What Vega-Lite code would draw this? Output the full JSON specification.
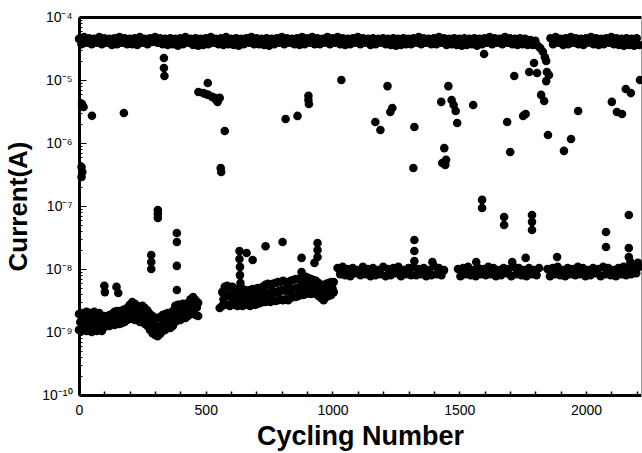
{
"$schema": "https://vega.github.io/schema/vega-lite/v6.json",
"width": 562, "height": 378,
"autosize": {"type": "none"},
"padding": {"left": 79, "top": 17, "right": 1, "bottom": 58},
"background": "white",
"config": {"view": {"stroke": null}, "font": "Liberation Sans"},
"data": {"values": [
{"n":0,"I":4.5e-5},{"n":10,"I":3.7e-5},{"n":20,"I":4.8e-5},{"n":30,"I":3.9e-5},{"n":40,"I":4.6e-5},{"n":50,"I":3.7e-5},{"n":60,"I":4.5e-5},{"n":70,"I":3.9e-5},{"n":80,"I":4.8e-5},{"n":90,"I":3.7e-5},
{"n":100,"I":4.6e-5},{"n":110,"I":3.9e-5},{"n":120,"I":4.5e-5},{"n":130,"I":3.6e-5},{"n":140,"I":4.6e-5},{"n":150,"I":3.7e-5},{"n":160,"I":4.8e-5},{"n":170,"I":3.9e-5},{"n":180,"I":4.6e-5},{"n":190,"I":3.7e-5},
{"n":200,"I":4.5e-5},{"n":210,"I":3.7e-5},{"n":220,"I":4.6e-5},{"n":230,"I":3.6e-5},{"n":240,"I":4.8e-5},{"n":250,"I":3.9e-5},{"n":260,"I":4.5e-5},{"n":270,"I":3.7e-5},{"n":280,"I":4.6e-5},{"n":290,"I":4.0e-5},
{"n":300,"I":4.8e-5},{"n":310,"I":3.9e-5},{"n":320,"I":4.6e-5},{"n":330,"I":3.7e-5},{"n":340,"I":4.5e-5},{"n":350,"I":3.6e-5},{"n":360,"I":4.6e-5},{"n":370,"I":3.7e-5},{"n":380,"I":4.5e-5},{"n":390,"I":3.5e-5},
{"n":400,"I":4.6e-5},{"n":410,"I":3.7e-5},{"n":420,"I":4.8e-5},{"n":430,"I":3.9e-5},{"n":440,"I":4.5e-5},{"n":450,"I":3.6e-5},{"n":460,"I":4.6e-5},{"n":470,"I":3.5e-5},{"n":480,"I":4.5e-5},{"n":490,"I":3.6e-5},
{"n":500,"I":4.6e-5},{"n":510,"I":3.7e-5},{"n":520,"I":4.8e-5},{"n":530,"I":3.9e-5},{"n":540,"I":4.5e-5},{"n":550,"I":3.7e-5},{"n":560,"I":4.6e-5},{"n":570,"I":3.6e-5},{"n":580,"I":4.8e-5},{"n":590,"I":3.7e-5},
{"n":600,"I":4.5e-5},{"n":610,"I":3.6e-5},{"n":620,"I":4.6e-5},{"n":630,"I":3.5e-5},{"n":640,"I":4.5e-5},{"n":650,"I":3.7e-5},{"n":660,"I":4.6e-5},{"n":670,"I":3.9e-5},{"n":680,"I":4.8e-5},{"n":690,"I":3.7e-5},
{"n":700,"I":4.6e-5},{"n":710,"I":3.7e-5},{"n":720,"I":4.5e-5},{"n":730,"I":3.6e-5},{"n":740,"I":4.6e-5},{"n":750,"I":3.5e-5},{"n":760,"I":4.5e-5},{"n":770,"I":3.7e-5},{"n":780,"I":4.6e-5},{"n":790,"I":3.9e-5},
{"n":800,"I":4.8e-5},{"n":810,"I":3.7e-5},{"n":820,"I":4.6e-5},{"n":830,"I":3.9e-5},{"n":840,"I":4.5e-5},{"n":850,"I":3.7e-5},{"n":860,"I":4.6e-5},{"n":870,"I":3.6e-5},{"n":880,"I":4.8e-5},{"n":890,"I":3.7e-5},
{"n":900,"I":4.6e-5},{"n":910,"I":3.9e-5},{"n":920,"I":4.8e-5},{"n":930,"I":3.7e-5},{"n":940,"I":4.6e-5},{"n":950,"I":3.7e-5},{"n":960,"I":4.5e-5},{"n":970,"I":3.9e-5},{"n":980,"I":4.8e-5},{"n":990,"I":3.7e-5},
{"n":1000,"I":4.6e-5},{"n":1010,"I":3.9e-5},{"n":1020,"I":4.8e-5},{"n":1030,"I":3.7e-5},{"n":1040,"I":4.6e-5},{"n":1050,"I":3.6e-5},{"n":1060,"I":4.5e-5},{"n":1070,"I":3.7e-5},{"n":1080,"I":4.6e-5},{"n":1090,"I":3.9e-5},
{"n":1100,"I":4.8e-5},{"n":1110,"I":3.7e-5},{"n":1120,"I":4.6e-5},{"n":1130,"I":3.9e-5},{"n":1140,"I":4.5e-5},{"n":1150,"I":3.6e-5},{"n":1160,"I":4.6e-5},{"n":1170,"I":3.7e-5},{"n":1180,"I":4.5e-5},{"n":1190,"I":3.9e-5},
{"n":1200,"I":4.6e-5},{"n":1210,"I":3.7e-5},{"n":1220,"I":4.5e-5},{"n":1230,"I":3.6e-5},{"n":1240,"I":4.6e-5},{"n":1250,"I":3.5e-5},{"n":1260,"I":4.5e-5},{"n":1270,"I":3.6e-5},{"n":1280,"I":4.6e-5},{"n":1290,"I":3.7e-5},
{"n":1300,"I":4.5e-5},{"n":1310,"I":3.7e-5},{"n":1320,"I":4.6e-5},{"n":1330,"I":3.9e-5},{"n":1340,"I":4.8e-5},{"n":1350,"I":3.7e-5},{"n":1360,"I":4.6e-5},{"n":1370,"I":3.9e-5},{"n":1380,"I":4.5e-5},{"n":1390,"I":3.7e-5},
{"n":1400,"I":4.6e-5},{"n":1410,"I":3.7e-5},{"n":1420,"I":4.8e-5},{"n":1430,"I":3.9e-5},{"n":1440,"I":4.6e-5},{"n":1450,"I":3.6e-5},{"n":1460,"I":4.5e-5},{"n":1470,"I":3.7e-5},{"n":1480,"I":4.6e-5},{"n":1490,"I":3.6e-5},
{"n":1500,"I":4.5e-5},{"n":1510,"I":3.5e-5},{"n":1520,"I":4.6e-5},{"n":1530,"I":3.6e-5},{"n":1540,"I":4.5e-5},{"n":1550,"I":3.7e-5},{"n":1560,"I":4.6e-5},{"n":1570,"I":3.5e-5},{"n":1580,"I":4.5e-5},{"n":1590,"I":3.7e-5},
{"n":1600,"I":4.6e-5},{"n":1610,"I":3.9e-5},{"n":1620,"I":4.8e-5},{"n":1630,"I":3.7e-5},{"n":1640,"I":4.6e-5},{"n":1650,"I":3.9e-5},{"n":1660,"I":4.5e-5},{"n":1670,"I":3.7e-5},{"n":1680,"I":4.8e-5},{"n":1690,"I":3.9e-5},
{"n":1700,"I":4.6e-5},{"n":1710,"I":3.7e-5},{"n":1720,"I":4.5e-5},{"n":1730,"I":3.6e-5},{"n":1740,"I":4.6e-5},{"n":1750,"I":3.7e-5},{"n":1760,"I":4.5e-5},{"n":1770,"I":3.6e-5},{"n":1780,"I":4.3e-5},{"n":1790,"I":3.6e-5},
{"n":1800,"I":4.2e-5},{"n":1810,"I":3.5e-5},{"n":1820,"I":3.2e-5},{"n":1830,"I":2.8e-5},{"n":1838,"I":2.3e-5},{"n":1843,"I":2.0e-5},
{"n":1860,"I":4.6e-5},{"n":1870,"I":3.7e-5},{"n":1880,"I":4.8e-5},{"n":1890,"I":3.9e-5},{"n":1900,"I":4.5e-5},{"n":1910,"I":3.6e-5},{"n":1920,"I":4.6e-5},{"n":1930,"I":3.7e-5},{"n":1940,"I":4.8e-5},{"n":1950,"I":3.9e-5},
{"n":1960,"I":4.6e-5},{"n":1970,"I":3.7e-5},{"n":1980,"I":4.5e-5},{"n":1990,"I":3.6e-5},{"n":2000,"I":4.6e-5},{"n":2010,"I":3.9e-5},{"n":2020,"I":4.8e-5},{"n":2030,"I":3.7e-5},{"n":2040,"I":4.6e-5},{"n":2050,"I":3.6e-5},
{"n":2060,"I":4.5e-5},{"n":2070,"I":3.7e-5},{"n":2080,"I":4.6e-5},{"n":2090,"I":3.9e-5},{"n":2100,"I":4.8e-5},{"n":2110,"I":3.7e-5},{"n":2120,"I":4.6e-5},{"n":2130,"I":3.6e-5},{"n":2140,"I":4.5e-5},{"n":2150,"I":3.5e-5},
{"n":2160,"I":4.6e-5},{"n":2170,"I":3.6e-5},{"n":2180,"I":4.5e-5},{"n":2190,"I":3.5e-5},{"n":2200,"I":4.6e-5},{"n":2210,"I":3.6e-5},
{"n":12,"I":4.16e-6},{"n":18,"I":3.73e-6},{"n":51,"I":2.7e-6},{"n":177,"I":3.0e-6},{"n":10,"I":4.16e-7},{"n":13,"I":3.47e-7},{"n":10,"I":2.89e-7},
{"n":335,"I":2.24e-5},{"n":335,"I":1.55e-5},{"n":337,"I":1.16e-5},{"n":508,"I":8.95e-6},
{"n":471,"I":6.45e-6},{"n":490,"I":6.2e-6},{"n":500,"I":6.0e-6},{"n":510,"I":5.8e-6},{"n":525,"I":5.4e-6},{"n":535,"I":5.2e-6},{"n":541,"I":4.8e-6},{"n":547,"I":4.5e-6},{"n":555,"I":5.2e-6},
{"n":575,"I":1.55e-6},{"n":559,"I":4.0e-7},{"n":561,"I":3.47e-7},
{"n":815,"I":2.41e-6},{"n":862,"I":2.69e-6},{"n":905,"I":5.6e-6},{"n":905,"I":4.8e-6},{"n":907,"I":4.16e-6},
{"n":1035,"I":1.0e-5},{"n":1217,"I":8.0e-6},{"n":1169,"I":2.15e-6},{"n":1189,"I":1.61e-6},{"n":1228,"I":3.1e-6},{"n":1236,"I":3.59e-6},
{"n":1323,"I":1.79e-6},{"n":1319,"I":4.0e-7},
{"n":1457,"I":8.0e-6},{"n":1429,"I":4.5e-6},{"n":1470,"I":4.8e-6},{"n":1478,"I":4.0e-6},{"n":1486,"I":3.22e-6},{"n":1492,"I":2.08e-6},
{"n":1441,"I":8.3e-7},{"n":1433,"I":4.8e-7},{"n":1445,"I":4.5e-7},{"n":1448,"I":5.4e-7},
{"n":1598,"I":2.59e-5},{"n":1555,"I":4.0e-6},{"n":1717,"I":1.16e-5},{"n":1689,"I":2.15e-6},{"n":1752,"I":2.69e-6},{"n":1762,"I":2.89e-6},{"n":1701,"I":7.2e-7},
{"n":1850,"I":1.34e-6},{"n":1823,"I":5.8e-6},{"n":1835,"I":4.64e-6},
{"n":1776,"I":1.34e-5},{"n":1807,"I":1.29e-5},{"n":1846,"I":1.34e-5},{"n":1854,"I":1.2e-5},{"n":1843,"I":9.6e-6},{"n":1795,"I":1.86e-5},
{"n":1941,"I":1.16e-6},{"n":1913,"I":7.5e-7},{"n":1969,"I":3.22e-6},
{"n":2102,"I":4.5e-6},{"n":2122,"I":3.1e-6},{"n":2142,"I":2.89e-6},{"n":2157,"I":7.2e-6},{"n":2177,"I":6.2e-6},{"n":2213,"I":1.0e-5},
{"n":0,"I":1.93e-9},{"n":5,"I":1.44e-9},{"n":0,"I":1.08e-9},
{"n":10,"I":2.0e-9},{"n":15,"I":1.44e-9},{"n":10,"I":1.04e-9},
{"n":20,"I":1.79e-9},{"n":25,"I":1.4e-9},{"n":20,"I":1.12e-9},
{"n":30,"I":2.1e-9},{"n":35,"I":1.47e-9},{"n":30,"I":1.04e-9},
{"n":40,"I":2.0e-9},{"n":45,"I":1.47e-9},{"n":40,"I":1.08e-9},
{"n":50,"I":1.86e-9},{"n":55,"I":1.36e-9},{"n":50,"I":1.0e-9},
{"n":60,"I":2.1e-9},{"n":65,"I":1.5e-9},{"n":60,"I":1.08e-9},
{"n":70,"I":1.93e-9},{"n":75,"I":1.4e-9},{"n":70,"I":1.04e-9},
{"n":80,"I":2.0e-9},{"n":85,"I":1.5e-9},{"n":80,"I":1.12e-9},
{"n":90,"I":1.79e-9},{"n":95,"I":1.36e-9},{"n":90,"I":1.04e-9},
{"n":100,"I":1.79e-9},{"n":105,"I":1.47e-9},{"n":100,"I":1.2e-9},
{"n":110,"I":1.73e-9},{"n":115,"I":1.47e-9},{"n":110,"I":1.25e-9},
{"n":120,"I":1.86e-9},{"n":125,"I":1.52e-9},{"n":120,"I":1.25e-9},
{"n":130,"I":1.93e-9},{"n":135,"I":1.61e-9},{"n":130,"I":1.34e-9},
{"n":140,"I":2.1e-9},{"n":145,"I":1.64e-9},{"n":140,"I":1.29e-9},
{"n":150,"I":2.15e-9},{"n":155,"I":1.7e-9},{"n":150,"I":1.34e-9},
{"n":160,"I":2.15e-9},{"n":165,"I":1.7e-9},{"n":160,"I":1.34e-9},
{"n":170,"I":2.2e-9},{"n":175,"I":1.76e-9},{"n":170,"I":1.39e-9},
{"n":180,"I":2.3e-9},{"n":185,"I":1.83e-9},{"n":180,"I":1.44e-9},
{"n":190,"I":2.4e-9},{"n":195,"I":1.93e-9},{"n":190,"I":1.55e-9},
{"n":200,"I":2.7e-9},{"n":205,"I":2.1e-9},{"n":200,"I":1.61e-9},
{"n":210,"I":3.0e-9},{"n":215,"I":2.2e-9},{"n":210,"I":1.67e-9},
{"n":220,"I":2.8e-9},{"n":225,"I":2.1e-9},{"n":220,"I":1.55e-9},
{"n":230,"I":2.6e-9},{"n":235,"I":2.0e-9},{"n":230,"I":1.55e-9},
{"n":240,"I":2.5e-9},{"n":245,"I":1.9e-9},{"n":240,"I":1.44e-9},
{"n":250,"I":2.6e-9},{"n":255,"I":1.93e-9},{"n":250,"I":1.44e-9},
{"n":260,"I":2.4e-9},{"n":265,"I":1.79e-9},{"n":260,"I":1.34e-9},
{"n":270,"I":2.2e-9},{"n":275,"I":1.67e-9},{"n":270,"I":1.25e-9},
{"n":280,"I":1.93e-9},{"n":285,"I":1.44e-9},{"n":280,"I":1.08e-9},
{"n":290,"I":1.79e-9},{"n":295,"I":1.32e-9},{"n":290,"I":9.6e-10},
{"n":300,"I":1.67e-9},{"n":305,"I":1.22e-9},{"n":300,"I":9.0e-10},
{"n":310,"I":1.67e-9},{"n":315,"I":1.2e-9},{"n":310,"I":8.6e-10},
{"n":320,"I":1.73e-9},{"n":325,"I":1.27e-9},{"n":320,"I":9.3e-10},
{"n":330,"I":1.86e-9},{"n":335,"I":1.39e-9},{"n":330,"I":1.04e-9},
{"n":340,"I":1.93e-9},{"n":345,"I":1.44e-9},{"n":340,"I":1.08e-9},
{"n":350,"I":2.0e-9},{"n":355,"I":1.52e-9},{"n":350,"I":1.16e-9},
{"n":360,"I":2.0e-9},{"n":365,"I":1.52e-9},{"n":360,"I":1.16e-9},
{"n":370,"I":2.15e-9},{"n":375,"I":1.64e-9},{"n":370,"I":1.25e-9},
{"n":380,"I":2.6e-9},{"n":385,"I":1.93e-9},{"n":380,"I":1.44e-9},
{"n":390,"I":2.7e-9},{"n":395,"I":2.05e-9},{"n":390,"I":1.55e-9},
{"n":400,"I":2.7e-9},{"n":405,"I":2.05e-9},{"n":400,"I":1.55e-9},
{"n":410,"I":2.8e-9},{"n":415,"I":2.15e-9},{"n":410,"I":1.67e-9},
{"n":420,"I":2.7e-9},{"n":425,"I":2.1e-9},{"n":420,"I":1.67e-9},
{"n":430,"I":2.9e-9},{"n":435,"I":2.3e-9},{"n":430,"I":1.79e-9},
{"n":440,"I":3.3e-9},{"n":445,"I":2.55e-9},{"n":440,"I":1.93e-9},
{"n":450,"I":3.6e-9},{"n":455,"I":2.75e-9},{"n":450,"I":2.1e-9},
{"n":460,"I":3.2e-9},{"n":465,"I":2.45e-9},{"n":460,"I":1.86e-9},
{"n":470,"I":2.9e-9},{"n":470,"I":1.79e-9},
{"n":100,"I":5.4e-9},{"n":102,"I":4.3e-9},{"n":148,"I":5.2e-9},{"n":155,"I":4.16e-9},
{"n":285,"I":1.67e-8},{"n":285,"I":1.29e-8},{"n":285,"I":1.0e-8},
{"n":311,"I":8.6e-8},{"n":311,"I":7.5e-8},{"n":311,"I":6.45e-8},
{"n":386,"I":3.73e-8},{"n":386,"I":2.68e-8},{"n":386,"I":1.12e-8},{"n":386,"I":4.64e-9},
{"n":555,"I":2.4e-9},
{"n":565,"I":4.3e-9},{"n":565,"I":2.6e-9},{"n":570,"I":3.3e-9},
{"n":575,"I":5.2e-9},{"n":575,"I":2.8e-9},{"n":580,"I":3.8e-9},
{"n":585,"I":5.4e-9},{"n":585,"I":2.7e-9},{"n":590,"I":3.8e-9},
{"n":595,"I":5.0e-9},{"n":595,"I":2.6e-9},{"n":600,"I":3.6e-9},
{"n":605,"I":5.2e-9},{"n":605,"I":2.9e-9},{"n":610,"I":3.87e-9},
{"n":615,"I":4.8e-9},{"n":615,"I":2.7e-9},{"n":620,"I":3.6e-9},
{"n":625,"I":4.64e-9},{"n":625,"I":2.6e-9},{"n":630,"I":3.47e-9},
{"n":635,"I":5.0e-9},{"n":635,"I":2.7e-9},{"n":640,"I":3.66e-9},
{"n":645,"I":4.8e-9},{"n":645,"I":2.6e-9},{"n":650,"I":3.53e-9},
{"n":655,"I":4.64e-9},{"n":655,"I":2.7e-9},{"n":660,"I":3.53e-9},
{"n":665,"I":4.5e-9},{"n":665,"I":2.7e-9},{"n":670,"I":3.47e-9},
{"n":675,"I":4.64e-9},{"n":675,"I":2.6e-9},{"n":680,"I":3.47e-9},
{"n":685,"I":4.8e-9},{"n":685,"I":2.8e-9},{"n":690,"I":3.66e-9},
{"n":695,"I":4.64e-9},{"n":695,"I":2.7e-9},{"n":700,"I":3.53e-9},
{"n":705,"I":5.0e-9},{"n":705,"I":2.8e-9},{"n":710,"I":3.73e-9},
{"n":715,"I":5.0e-9},{"n":715,"I":2.9e-9},{"n":720,"I":3.8e-9},
{"n":725,"I":5.2e-9},{"n":725,"I":3.0e-9},{"n":730,"I":3.93e-9},
{"n":735,"I":5.6e-9},{"n":735,"I":3.0e-9},{"n":740,"I":4.08e-9},
{"n":745,"I":5.8e-9},{"n":745,"I":3.1e-9},{"n":750,"I":4.23e-9},
{"n":755,"I":5.6e-9},{"n":755,"I":3.0e-9},{"n":760,"I":4.08e-9},
{"n":765,"I":5.8e-9},{"n":765,"I":3.2e-9},{"n":770,"I":4.3e-9},
{"n":775,"I":6.0e-9},{"n":775,"I":3.1e-9},{"n":780,"I":4.3e-9},
{"n":785,"I":6.2e-9},{"n":785,"I":3.2e-9},{"n":790,"I":4.5e-9},
{"n":795,"I":6.2e-9},{"n":795,"I":3.3e-9},{"n":800,"I":4.57e-9},
{"n":805,"I":6.5e-9},{"n":805,"I":3.2e-9},{"n":810,"I":4.57e-9},
{"n":815,"I":6.2e-9},{"n":815,"I":3.3e-9},{"n":820,"I":4.57e-9},
{"n":825,"I":6.0e-9},{"n":825,"I":3.2e-9},{"n":830,"I":4.4e-9},
{"n":835,"I":6.5e-9},{"n":835,"I":3.47e-9},{"n":840,"I":4.7e-9},
{"n":845,"I":6.7e-9},{"n":845,"I":3.6e-9},{"n":850,"I":4.9e-9},
{"n":855,"I":6.9e-9},{"n":855,"I":3.6e-9},{"n":860,"I":5.0e-9},
{"n":865,"I":6.9e-9},{"n":865,"I":3.73e-9},{"n":870,"I":5.1e-9},
{"n":875,"I":6.7e-9},{"n":875,"I":3.87e-9},{"n":880,"I":5.1e-9},
{"n":885,"I":7.2e-9},{"n":885,"I":3.87e-9},{"n":890,"I":5.3e-9},
{"n":895,"I":7.5e-9},{"n":895,"I":4.0e-9},{"n":900,"I":5.5e-9},
{"n":905,"I":7.2e-9},{"n":905,"I":4.16e-9},{"n":910,"I":5.5e-9},
{"n":915,"I":6.9e-9},{"n":915,"I":4.0e-9},{"n":920,"I":5.3e-9},
{"n":925,"I":6.7e-9},{"n":925,"I":4.16e-9},{"n":930,"I":5.3e-9},
{"n":935,"I":6.5e-9},{"n":935,"I":4.0e-9},{"n":940,"I":5.1e-9},
{"n":945,"I":6.0e-9},{"n":945,"I":3.73e-9},{"n":950,"I":4.7e-9},
{"n":955,"I":5.6e-9},{"n":955,"I":3.47e-9},{"n":960,"I":4.4e-9},
{"n":965,"I":5.4e-9},{"n":965,"I":3.2e-9},{"n":970,"I":4.16e-9},
{"n":975,"I":5.8e-9},{"n":975,"I":3.6e-9},{"n":980,"I":4.57e-9},
{"n":985,"I":6.0e-9},{"n":985,"I":3.73e-9},{"n":990,"I":4.7e-9},
{"n":995,"I":6.2e-9},{"n":995,"I":3.87e-9},{"n":1000,"I":4.9e-9},
{"n":1005,"I":6.2e-9},{"n":1005,"I":4.3e-9},
{"n":633,"I":1.93e-8},{"n":633,"I":1.44e-8},{"n":635,"I":1.08e-8},{"n":635,"I":8.0e-9},{"n":637,"I":6.0e-9},
{"n":661,"I":1.79e-8},{"n":685,"I":1.39e-8},{"n":736,"I":2.3e-8},{"n":803,"I":2.68e-8},{"n":878,"I":1.5e-8},{"n":878,"I":8.95e-9},
{"n":941,"I":2.59e-8},{"n":941,"I":2.0e-8},{"n":941,"I":1.55e-8},{"n":929,"I":1.25e-8},
{"n":1020,"I":1.04e-8},{"n":1030,"I":8.3e-9},{"n":1040,"I":1.08e-8},{"n":1050,"I":8.0e-9},{"n":1060,"I":1.0e-8},{"n":1070,"I":7.7e-9},{"n":1080,"I":1.04e-8},{"n":1090,"I":8.6e-9},{"n":1100,"I":9.6e-9},{"n":1110,"I":8.0e-9},
{"n":1120,"I":1.08e-8},{"n":1130,"I":8.3e-9},{"n":1140,"I":1.0e-8},{"n":1150,"I":7.7e-9},{"n":1160,"I":1.04e-8},{"n":1170,"I":8.0e-9},{"n":1180,"I":9.6e-9},{"n":1190,"I":8.3e-9},{"n":1200,"I":1.08e-8},{"n":1210,"I":7.7e-9},
{"n":1220,"I":1.0e-8},{"n":1230,"I":8.0e-9},{"n":1240,"I":1.04e-8},{"n":1250,"I":8.6e-9},{"n":1260,"I":1.08e-8},{"n":1270,"I":7.7e-9},{"n":1280,"I":9.6e-9},{"n":1290,"I":8.3e-9},{"n":1300,"I":1.04e-8},{"n":1310,"I":8.0e-9},
{"n":1320,"I":1.08e-8},{"n":1330,"I":8.0e-9},{"n":1340,"I":1.0e-8},{"n":1350,"I":8.3e-9},{"n":1360,"I":1.04e-8},{"n":1370,"I":7.7e-9},{"n":1380,"I":9.6e-9},{"n":1390,"I":8.0e-9},{"n":1400,"I":1.12e-8},{"n":1410,"I":8.3e-9},
{"n":1420,"I":1.04e-8},{"n":1430,"I":8.0e-9},{"n":1440,"I":9.6e-9},
{"n":1495,"I":1.0e-8},{"n":1505,"I":7.7e-9},{"n":1515,"I":1.04e-8},{"n":1525,"I":8.3e-9},{"n":1535,"I":1.08e-8},{"n":1545,"I":8.0e-9},{"n":1555,"I":9.6e-9},{"n":1565,"I":7.7e-9},{"n":1575,"I":1.04e-8},{"n":1585,"I":8.3e-9},
{"n":1595,"I":1.0e-8},{"n":1605,"I":8.0e-9},{"n":1615,"I":1.08e-8},{"n":1625,"I":8.3e-9},{"n":1635,"I":1.04e-8},{"n":1645,"I":7.7e-9},{"n":1655,"I":9.6e-9},{"n":1665,"I":8.0e-9},{"n":1675,"I":1.04e-8},{"n":1685,"I":8.6e-9},
{"n":1695,"I":1.0e-8},{"n":1705,"I":7.7e-9},{"n":1715,"I":1.08e-8},{"n":1725,"I":8.3e-9},{"n":1735,"I":1.04e-8},{"n":1745,"I":8.0e-9},{"n":1755,"I":9.6e-9},{"n":1765,"I":7.7e-9},{"n":1775,"I":1.04e-8},{"n":1785,"I":8.3e-9},
{"n":1795,"I":9.6e-9},{"n":1805,"I":8.0e-9},{"n":1815,"I":1.04e-8},
{"n":1848,"I":1.0e-8},{"n":1858,"I":7.7e-9},{"n":1868,"I":1.04e-8},{"n":1878,"I":8.3e-9},{"n":1888,"I":1.08e-8},{"n":1898,"I":8.0e-9},{"n":1908,"I":9.6e-9},{"n":1918,"I":7.7e-9},{"n":1928,"I":1.04e-8},{"n":1938,"I":8.3e-9},
{"n":1948,"I":1.0e-8},{"n":1958,"I":8.0e-9},{"n":1968,"I":1.08e-8},{"n":1978,"I":8.3e-9},{"n":1988,"I":1.04e-8},{"n":1998,"I":7.7e-9},{"n":2008,"I":9.6e-9},{"n":2018,"I":8.0e-9},{"n":2028,"I":1.04e-8},{"n":2038,"I":8.6e-9},
{"n":2048,"I":1.0e-8},{"n":2058,"I":7.7e-9},{"n":2068,"I":1.08e-8},{"n":2078,"I":8.3e-9},{"n":2088,"I":1.04e-8},{"n":2098,"I":8.0e-9},{"n":2108,"I":9.6e-9},{"n":2118,"I":7.7e-9},{"n":2128,"I":1.04e-8},{"n":2138,"I":8.3e-9},
{"n":2148,"I":1.08e-8},{"n":2158,"I":8.0e-9},{"n":2168,"I":1.0e-8},{"n":2178,"I":8.3e-9},{"n":2188,"I":1.04e-8},{"n":2198,"I":8.6e-9},{"n":2208,"I":1.08e-8},
{"n":2175,"I":1.29e-8},{"n":2190,"I":1.16e-8},{"n":2205,"I":1.25e-8},
{"n":1323,"I":2.89e-8},{"n":1323,"I":1.93e-8},{"n":1323,"I":1.34e-8},{"n":1394,"I":1.29e-8},{"n":1567,"I":1.29e-8},
{"n":1590,"I":1.25e-7},{"n":1590,"I":9.3e-8},{"n":1677,"I":6.7e-8},{"n":1677,"I":5.0e-8},{"n":1709,"I":1.29e-8},{"n":1762,"I":1.5e-8},
{"n":1787,"I":7.2e-8},{"n":1787,"I":5.6e-8},{"n":1787,"I":4.16e-8},{"n":1886,"I":1.55e-8},
{"n":2079,"I":3.87e-8},{"n":2079,"I":2.24e-8},{"n":2169,"I":7.2e-8},{"n":2169,"I":2.16e-8},{"n":2169,"I":1.55e-8}
]},
"layer": [
{
"mark": {"type": "circle", "size": 74, "opacity": 1, "color": "black"},
"encoding": {
"x": {"field": "n", "type": "quantitative",
"scale": {"domain": [0, 2217], "nice": false, "zero": false},
"axis": {"title": "Cycling Number", "format": "d",
"values": [0,100,200,300,400,500,600,700,800,900,1000,1100,1200,1300,1400,1500,1600,1700,1800,1900,2000,2100,2200],
"labelExpr": "datum.value % 500 === 0 ? datum.label : ''",
"grid": false, "domainColor": "black", "domainWidth": 3,
"tickColor": "black", "tickWidth": 1.5, "tickSize": -4,
"labelFont": "Liberation Sans", "labelFontSize": 14, "labelColor": "black", "labelPadding": 12,
"labelFlush": false, "labelOverlap": false,
"titleFont": "Liberation Sans", "titleFontSize": 27, "titleFontWeight": "bold", "titleColor": "black", "titlePadding": 6}},
"y": {"field": "I", "type": "quantitative",
"scale": {"type": "log", "domain": [1e-10, 1e-4], "nice": false},
"axis": {"title": "Current(A)",
"values": [1e-10,2e-10,3e-10,4e-10,5e-10,6e-10,7e-10,8e-10,9e-10,1e-9,2e-9,3e-9,4e-9,5e-9,6e-9,7e-9,8e-9,9e-9,1e-8,2e-8,3e-8,4e-8,5e-8,6e-8,7e-8,8e-8,9e-8,1e-7,2e-7,3e-7,4e-7,5e-7,6e-7,7e-7,8e-7,9e-7,1e-6,2e-6,3e-6,4e-6,5e-6,6e-6,7e-6,8e-6,9e-6,1e-5,2e-5,3e-5,4e-5,5e-5,6e-5,7e-5,8e-5,9e-5,1e-4],
"labelExpr": "abs(log(datum.value)/LN10 - round(log(datum.value)/LN10)) > 0.01 ? '' : datum.value > 5e-5 ? '10⁻⁴' : datum.value > 5e-6 ? '10⁻⁵' : datum.value > 5e-7 ? '10⁻⁶' : datum.value > 5e-8 ? '10⁻⁷' : datum.value > 5e-9 ? '10⁻⁸' : datum.value > 5e-10 ? '10⁻⁹' : '10⁻¹⁰'",
"tickSize": {"condition": {"test": "abs(log(datum.value)/LN10 - round(log(datum.value)/LN10)) < 0.01", "value": -7}, "value": -3},
"grid": false, "domainColor": "black", "domainWidth": 3,
"tickColor": "black", "tickWidth": 1,
"labelFont": "Liberation Sans", "labelFontSize": 14, "labelColor": "black", "labelPadding": 14,
"labelFlush": false, "labelOverlap": false,
"titleFont": "Liberation Sans", "titleFontSize": 26, "titleFontWeight": "bold", "titleColor": "black", "titlePadding": 10}}
}
},
{
"mark": {"type": "circle", "opacity": 0},
"encoding": {
"x": {"field": "n", "type": "quantitative",
"axis": {"orient": "top", "title": null, "labels": false, "ticks": false, "grid": false, "domainColor": "black", "domainWidth": 3}},
"y": {"field": "I", "type": "quantitative",
"axis": {"orient": "right", "title": null, "labels": false, "ticks": false, "grid": false, "domainColor": "#999999", "domainWidth": 1}}
}
}
],
"resolve": {"axis": {"x": "independent", "y": "independent"}}
}
